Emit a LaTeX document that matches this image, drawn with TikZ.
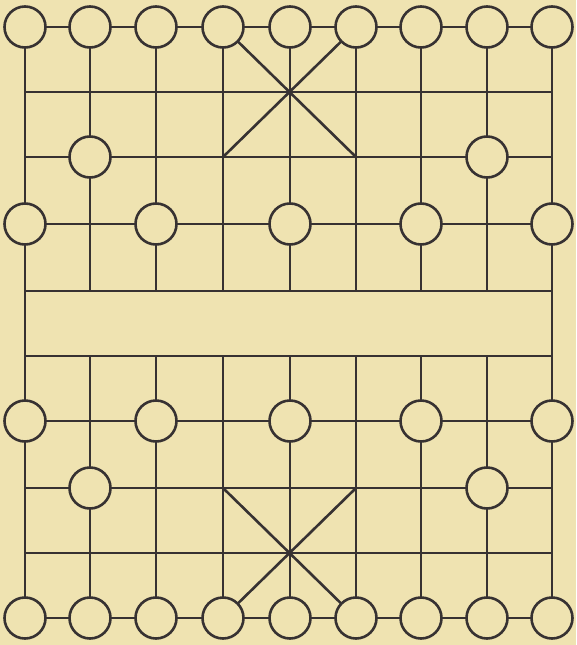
\documentclass[tikz,border=0pt]{standalone}
\definecolor{bg}{RGB}{239,227,177}
\definecolor{ink}{RGB}{55,50,50}
\begin{document}
\begin{tikzpicture}[x=1pt,y=-1pt,
  gridline/.style={draw=ink,line width=2.6pt},
  piece/.style={circle,draw=ink,line width=2.6pt,fill=bg,minimum size=41pt,inner sep=0pt}]
\fill[bg] (0,0) rectangle (576,645);
\useasboundingbox (0,0) rectangle (576,645);
% grid points
\foreach \c/\x in {0/25,1/90,2/156,3/223,4/290,5/356,6/421,7/487,8/552}{
  \foreach \r/\y in {0/27,1/92,2/157,3/224,4/291,5/356,6/421,7/488,8/553,9/618}{
    \coordinate (p\c-\r) at (\x,\y);
  }
}
% horizontal lines
\foreach \r in {0,...,9}{ \draw[gridline] (p0-\r) -- (p8-\r); }
% outer verticals
\draw[gridline] (p0-0) -- (p0-9);
\draw[gridline] (p8-0) -- (p8-9);
% inner verticals (interrupted by the river)
\foreach \c in {1,...,7}{
  \draw[gridline] (p\c-0) -- (p\c-4);
  \draw[gridline] (p\c-5) -- (p\c-9);
}
% palaces
\draw[gridline] (p3-0) -- (p5-2);
\draw[gridline] (p5-0) -- (p3-2);
\draw[gridline] (p3-7) -- (p5-9);
\draw[gridline] (p5-7) -- (p3-9);
% pieces
\foreach \c in {0,...,8}{
  \node[piece] (top\c) at (p\c-0) {};
  \node[piece] (bot\c) at (p\c-9) {};
}
\foreach \c in {1,7}{
  \node[piece] (ta\c) at (p\c-2) {};
  \node[piece] (ba\c) at (p\c-7) {};
}
\foreach \c in {0,2,4,6,8}{
  \node[piece] (ts\c) at (p\c-3) {};
  \node[piece] (bs\c) at (p\c-6) {};
}
\end{tikzpicture}
\end{document}
